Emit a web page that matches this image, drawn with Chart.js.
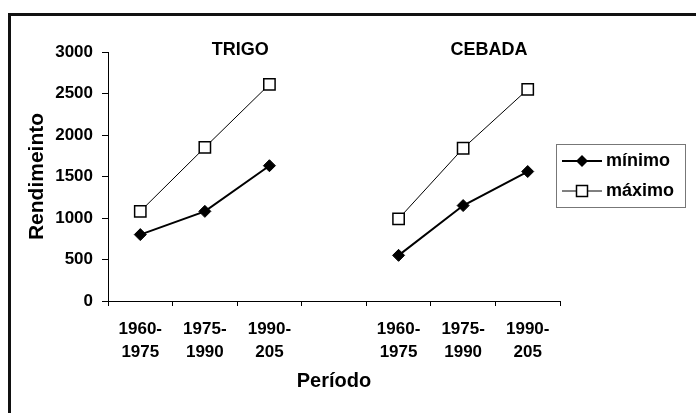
<!DOCTYPE html>
<html>
<head>
<meta charset="utf-8">
<script src="https://cdn.jsdelivr.net/npm/chart.js@4.4.1/dist/chart.umd.min.js"></script>
<style>
  html,body{margin:0;padding:0;background:#fff;}
  #wrap{position:relative;width:696px;height:413px;overflow:hidden;}
  #frame{position:absolute;left:8px;top:13px;width:900px;height:600px;border-left:3px solid #111;border-top:3px solid #111;}
  canvas{position:absolute;left:0;top:0;}
</style>
</head>
<body>
<div id="wrap">
  <div id="frame"></div>
  <canvas id="c" width="696" height="413"></canvas>
</div>
<script>
const categories = [['1960-','1975'],['1975-','1990'],['1990-','205'],'',['1960-','1975'],['1975-','1990'],['1990-','205']];
const minimo = [800, 1080, 1630, null, 550, 1150, 1560];
const maximo = [1080, 1850, 2610, null, 990, 1840, 2550];
const yTicks = [0, 500, 1000, 1500, 2000, 2500, 3000];
const groupTitles = [{text:'TRIGO', at:1.55}, {text:'CEBADA', at:5.4}];
const seriesNames = ['mínimo', 'máximo'];

const FONT = '"Liberation Sans", Arial, sans-serif';

const groupTitlePlugin = {
  id: 'groupTitles',
  afterDraw(chart) {
    const ctx = chart.ctx, xs = chart.scales.x;
    ctx.save();
    ctx.font = 'bold 18px ' + FONT;
    ctx.fillStyle = '#000';
    ctx.textAlign = 'center';
    ctx.textBaseline = 'middle';
    const step = xs.getPixelForValue(1) - xs.getPixelForValue(0);
    groupTitles.forEach(g => {
      const x = xs.getPixelForValue(0) + g.at * step;
      ctx.fillText(g.text, x, chart.chartArea.top - 2);
    });
    ctx.restore();
  }
};

const legendPlugin = {
  id: 'boxLegend',
  afterDraw(chart) {
    const ctx = chart.ctx;
    const left = chart.chartArea.right - 4, top = 144, w = 129, h = 63;
    ctx.save();
    ctx.strokeStyle = '#777';
    ctx.lineWidth = 1;
    ctx.strokeRect(left + 0.5, top + 0.5, w, h);
    const rows = [top + 17, top + 47];
    chart.data.datasets.forEach((ds, i) => {
      const y = rows[i];
      const mx = left + 26;
      ctx.strokeStyle = '#000';
      ctx.lineWidth = ds.borderWidth;
      ctx.beginPath();
      ctx.moveTo(left + 6, y);
      ctx.lineTo(left + 46, y);
      ctx.stroke();
      ctx.lineWidth = 1.5;
      if (ds.pointStyle === 'rectRot') {
        const r = 6;
        ctx.fillStyle = '#000';
        ctx.beginPath();
        ctx.moveTo(mx - r, y); ctx.lineTo(mx, y - r);
        ctx.lineTo(mx + r, y); ctx.lineTo(mx, y + r);
        ctx.closePath(); ctx.fill();
      } else {
        const s = 5.5;
        ctx.fillStyle = '#fff';
        ctx.fillRect(mx - s, y - s, 2 * s, 2 * s);
        ctx.strokeRect(mx - s, y - s, 2 * s, 2 * s);
      }
      ctx.fillStyle = '#000';
      ctx.font = 'bold 18px ' + FONT;
      ctx.textAlign = 'left';
      ctx.textBaseline = 'middle';
      ctx.fillText(ds.label, left + 50, y);
    });
    ctx.restore();
  }
};

new Chart(document.getElementById('c'), {
  type: 'line',
  data: {
    labels: categories,
    datasets: [
      {
        label: seriesNames[0], data: minimo,
        borderColor: '#000', borderWidth: 2,
        pointStyle: 'rectRot', pointRadius: 6, pointHoverRadius: 6,
        pointBackgroundColor: '#000', pointBorderColor: '#000', pointBorderWidth: 1,
        spanGaps: false, tension: 0
      },
      {
        label: seriesNames[1], data: maximo,
        borderColor: '#000', borderWidth: 1,
        pointStyle: 'rect', pointRadius: 8, pointHoverRadius: 8,
        pointBackgroundColor: '#fff', pointBorderColor: '#000', pointBorderWidth: 1.5,
        spanGaps: false, tension: 0
      }
    ]
  },
  options: {
    responsive: false,
    animation: false,
    events: [],
    layout: { padding: { left: 14, top: 52, right: 136, bottom: 20 } },
    plugins: { legend: { display: false }, tooltip: { enabled: false }, title: { display: false } },
    scales: {
      x: {
        offset: true,
        grid: { offset: true, drawOnChartArea: false, drawTicks: true, tickLength: 5, color: '#000' },
        border: { color: '#000', width: 1 },
        ticks: { color: '#000', font: { family: FONT, size: 17, weight: 'bold', lineHeight: 1.4 }, padding: 11, maxRotation: 0, autoSkip: false },
        title: { display: true, text: 'Período', color: '#000', font: { family: FONT, size: 20, weight: 'bold' }, padding: { top: 0, bottom: 0 } },
        afterFit(s) { s.height = 413 - 20 - 301; }
      },
      y: {
        min: 0, max: 3000,
        afterBuildTicks(s) { s.ticks = yTicks.map(v => ({ value: v })); },
        grid: { drawOnChartArea: false, drawTicks: true, tickLength: 6, color: '#000' },
        border: { color: '#000', width: 1 },
        ticks: { color: '#000', font: { family: FONT, size: 17, weight: 'bold' }, padding: 9, callback: v => String(v) },
        title: { display: true, text: 'Rendimeinto', color: '#000', font: { family: FONT, size: 21, weight: 'bold' }, padding: { top: 11, bottom: 0 } },
        afterFit(s) { s.width = 108 - 14; }
      }
    }
  },
  plugins: [groupTitlePlugin, legendPlugin]
});
</script>
</body>
</html>
